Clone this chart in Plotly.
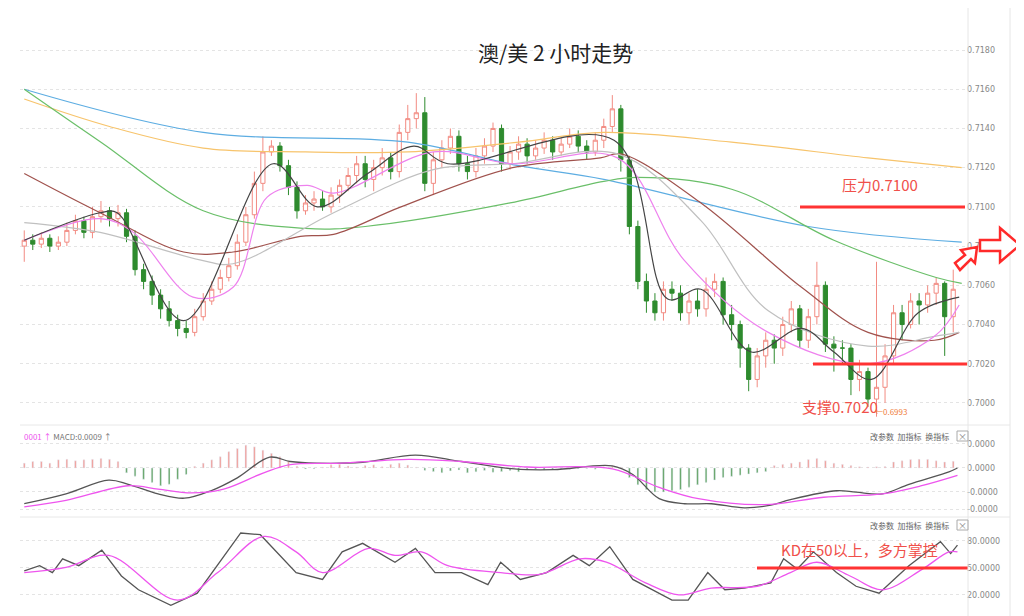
import plotly.graph_objects as go

close = [.7083,.7081,.7084,.7080,.7082, .7088,.7093,.7087,.7095,.7098,
         .7094,.7097,.7085,.7068,.7062, .7055,.7048,.7042,.7038,.7036,
         .7044,.7052,.7058,.7064,.7070, .7082,.7096,.7112,.7128,.7131,
         .7121,.7110,.7098,.7102,.7104, .7100,.7106,.7111,.7116,.7122,
         .7114,.7120,.7125,.7118,.7138, .7145,.7148,.7112,.7124,.7130,
         .7136,.7122,.7118,.7126,.7131, .7140,.7122,.7128,.7132,.7126,
         .7130,.7134,.7128,.7132,.7136, .7131,.7128,.7134,.7141,.7150,
         .7124,.7090,.7062,.7052,.7046, .7058,.7056,.7046,.7052,.7048,
         .7058,.7062,.7045,.7040,.7028, .7012,.7024,.7032,.7028,.7040,
         .7048,.7032,.7044,.7060,.7030, .7028,.7028,.7012,.7016,.7002,
         .7008,.7024,.7046,.7040,.7052, .7050,.7056,.7061,.7044,.7058]
high = [.7088,.7086,.7087,.7086,.7085, .7092,.7096,.7095,.7100,.7103,
        .7100,.7101,.7099,.7088,.7071, .7065,.7058,.7052,.7045,.7042,
        .7048,.7056,.7062,.7068,.7074, .7086,.7100,.7118,.7136,.7134,
        .7133,.7124,.7113,.7106,.7108, .7108,.7110,.7114,.7120,.7126,
        .7126,.7124,.7130,.7128,.7142, .7152,.7158,.7156,.7128,.7134,
        .7140,.7139,.7126,.7130,.7135, .7143,.7142,.7131,.7136,.7135,
        .7134,.7138,.7136,.7135,.7140, .7139,.7134,.7138,.7145,.7157,
        .7152,.7126,.7093,.7066,.7056, .7062,.7062,.7060,.7056,.7058,
        .7064,.7066,.7064,.7050,.7042, .7030,.7028,.7036,.7035,.7044,
        .7052,.7050,.7048,.7072,.7062, .7034,.7032,.7030,.7022,.7018,
        .7072,.7030,.7050,.7050,.7056, .7056,.7060,.7064,.7062,.7068]
low = [.7072,.7078,.7079,.7077,.7078, .7080,.7086,.7084,.7084,.7092,
       .7090,.7090,.7082,.7065,.7058, .7050,.7043,.7039,.7034,.7033,
       .7034,.7042,.7050,.7056,.7062, .7068,.7080,.7094,.7108,.7126,
       .7118,.7106,.7094,.7096,.7098, .7098,.7097,.7102,.7108,.7112,
       .7110,.7108,.7116,.7114,.7115, .7134,.7140,.7108,.7106,.7120,
       .7127,.7118,.7114,.7115,.7122, .7128,.7118,.7119,.7124,.7122,
       .7124,.7127,.7124,.7126,.7130, .7128,.7124,.7126,.7130,.7138,
       .7118,.7086,.7058,.7046,.7042, .7042,.7052,.7042,.7040,.7044,
       .7044,.7054,.7040,.7032,.7018, .7006,.7008,.7018,.7020,.7024,
       .7036,.7028,.7028,.7040,.7026, .7016,.7020,.7004,.7006,.6998,
       .6993,.7000,.7020,.7032,.7038, .7040,.7046,.7050,.7024,.7036]
first_open = .7080
opn = [first_open] + close[:-1]
idx = list(range(len(close)))

# moving averages (sampled)
ma_blue_x = [0,21,45,58,68,92,110]
ma_blue_y = [.7160,.7138,.7133,.7121,.7114,.7090,.7082]
ma_orange_x = [0,10,21,33,45,58,68,83,99,110]
ma_orange_y = [.7155,.7141,.7130,.7128,.7128,.7133,.7138,.7133,.7125,.7120]
ma_green_x = [0,9,21,33,40,57,68,72,83,95,107,110]
ma_green_y = [.7160,.7133,.7098,.7089,.7090,.7102,.7113,.7115,.7109,.7083,.7064,.7061]
ma_brown_x = [0,8.9,18.7,24.5,32.4,36.3,44.2,57.3,67.6,70,79.4,91.2,99,106.8,109.7]
ma_brown_y = [.7117,.7097,.7077,.7077,.7085,.7086,.7100,.7120,.7125,.7127,.7102,.7059,.7036,.7032,.7036]
ma_gray_x = [0,8.9,20.6,24.5,36.3,48.0,57.3,69.6,79.4,87.3,99,106.8,109.7]
ma_gray_y = [.7092,.7087,.7073,.7071,.7097,.7119,.7122,.7127,.7093,.7047,.7029,.7034,.7036]
ma_mag_x = [0,8.9,12.8,19.8,24.5,28.5,33.2,36.3,48.0,57.3,69.6,77.4,87.3,99,106.8,109.7]
ma_mag_y = [.7083,.7094,.7087,.7054,.7059,.7105,.7111,.7107,.7128,.7122,.7125,.7073,.7036,.7020,.7034,.7050]
ma_blk_x = [0,8.9,10.9,18.7,29.2,34.4,40.3,45.7,49.7,69.2,75.5,79.4,85.3,91.2,95.0,99.4,104.9,109.7]
ma_blk_y = [.7083,.7097,.7097,.7042,.7122,.7100,.7117,.7131,.7122,.7134,.7053,.7058,.7026,.7038,.7026,.7012,.7046,.7054]

# MACD (units of 1e-4)
macd_hist = [2,2.7,2.7,2,3.4,3.6,3.0,3.4,3.6,4.0,3.6,2.7,
             -2,-3.4,-4.7,-6,-7.4,-6.8,-4.7,-2.7,
             .7,2,3.4,4.7,6.8,8.1,9.5,8.8,7.4,6.1,4.7,2.7,.7,-.4,
             -.3,.3,1.3,1.5,.8,.3,1.0,1.3,.5,1.5,2.0,1.2,.3,
             -1.0,-1.5,-2,-1.2,-0.8,-2.0,-1.6,-1.0,-1.8,-1.5,-1.0,-1.6,-0.8,-0.5,-0.8,-0.5,-0.3,-0.5,-0.3,-0.2,-0.5,0.5,
             .8,.3,
             -4,-7,-9,-10,-10,-9.5,-9,-8,-7,-6,-5,-4,-3.5,-3,-2.5,-2,-1.5,
             1,1.5,2,2.5,3.5,4,3,2,1.5,1,
             .5,.4,.5,.6,
             2.5,3,3.5,3.6,3.6,3.0,2.5,2.8]
dif_x = [0,4.9,9.9,12.2,15.7,18.8,21.9,25,28.8,31.2,34.3,39.7,45.9,51.3,57.5,62.1,69,71.4,74.5,77.5,80.6,84.5,87.6,89.9,95.3,97.6,100.7,103.8,108.5,109.5]
dif_y = [-14.9,-10.8,-5.1,-6.8,-10.8,-12.6,-9.5,-4.1,4.5,2.7,2.0,2.4,5.4,2.7,-0.4,-0.7,0.9,-2.7,-12.8,-14.9,-14.9,-16.6,-15.5,-13.2,-9.5,-10.1,-10.8,-6.8,-1.6,0]
dea_x = [0,4.9,12.2,15.7,19.6,23.4,28.1,31.2,37.3,45.1,51.3,59,69,74.5,79.1,86.8,93.8,100.7,105.3,109.5]
dea_y = [-16.2,-13.5,-7.4,-8.8,-10.4,-8.8,-2.0,1.4,2.0,3.6,2.7,0.4,-0.4,-8.1,-12.8,-15.3,-12.2,-10.8,-7.4,-3.1]
macd_tickvals = [10, 0, -10, -17.2]
macd_ticktext = ["0.0000", "0.0000", "-0.0000", "-0.0000"]

# KD
k_x = [0,1.8,3.3,4.5,6.4,9.1,11.4,13.4,17.2,20.3,25.4,27.7,31.9,35,37.3,39.7,43.5,45.9,48.2,51.3,54.4,55.9,58.2,61.3,64.4,66.3,68.7,71.4,76,77.9,80.2,82.2,84.5,87.6,89.1,90.7,92.6,95.3,97.6,100.3,103.8,107.5,108.7,109.5]
k_y = [46.8,52.5,44.8,60.1,52.5,69.7,41.0,25.7,8.5,21.9,88.8,86.9,44.8,37.2,67.8,77.3,56.3,71.6,44.8,44.8,31.5,56.3,37.2,44.8,63.9,52.5,73.5,37.2,14.3,14.3,44.8,25.7,27.6,33.4,60.1,48.7,67.8,44.8,29.6,21.9,52.5,79.2,65.9,75.4]
d_x = [0,4.9,9.9,18,22.7,28.1,31.9,35,40.4,43.5,46.6,49.7,55.9,60.5,65.2,68.3,72.9,76.8,80.6,86,89.9,93,96.9,100.7,105.4,108.5,109.5]
d_y = [44.8,50.6,63.9,14.3,44.8,85,67.8,44.8,71.6,63.9,67.8,52.5,44.8,42.9,60.1,56.3,33.4,20,27.6,29.6,44.8,56.3,41,25.7,48.7,67.8,67.8]

price_ticks = [0.7000,0.7020,0.7040,0.7060,0.7080,0.7100,0.7120,0.7140,0.7160,0.7180]

FONT = "Noto Sans CJK SC"
OFF = 8  # page offset of the figure in the screenshot

def PX(px):
    return (px - OFF) / 1024
def PY(py):
    return 1 - (py - OFF) / 616
def P(px, py):
    return PX(px), PY(py)

fig = go.Figure()
fig.add_trace(go.Candlestick(x=idx, open=opn, high=high, low=low, close=close,
    increasing=dict(line=dict(color="#f28b82", width=1), fillcolor="white"),
    decreasing=dict(line=dict(color="#2e8b2e", width=1), fillcolor="#2e8b2e"),
    whiskerwidth=0, xaxis="x", yaxis="y", showlegend=False))
for xs, ys, col in [(ma_blue_x, ma_blue_y, "#5dade2"), (ma_orange_x, ma_orange_y, "#f7c46c"),
                    (ma_green_x, ma_green_y, "#6abf69"), (ma_brown_x, ma_brown_y, "#a0524d"),
                    (ma_gray_x, ma_gray_y, "#c0c0c0"), (ma_mag_x, ma_mag_y, "#ee82ee"),
                    (ma_blk_x, ma_blk_y, "#444444")]:
    fig.add_trace(go.Scatter(x=xs, y=ys, mode="lines", line=dict(color=col, width=1.2, shape="spline"),
                             xaxis="x", yaxis="y", showlegend=False, hoverinfo="skip"))

fig.add_trace(go.Bar(x=idx, y=macd_hist, marker_color=["#f29a94" if v >= 0 else "#5a9e5a" for v in macd_hist],
                     width=0.2, xaxis="x2", yaxis="y2", showlegend=False))
fig.add_trace(go.Scatter(x=dif_x, y=dif_y, mode="lines", line=dict(color="#555", width=1.3, shape="spline"),
                         xaxis="x2", yaxis="y2", showlegend=False))
fig.add_trace(go.Scatter(x=dea_x, y=dea_y, mode="lines", line=dict(color="#ee55ee", width=1.3, shape="spline"),
                         xaxis="x2", yaxis="y2", showlegend=False))
fig.add_trace(go.Scatter(x=k_x, y=k_y, mode="lines", line=dict(color="#555", width=1.3),
                         xaxis="x3", yaxis="y3", showlegend=False))
fig.add_trace(go.Scatter(x=d_x, y=d_y, mode="lines", line=dict(color="#ee55ee", width=1.3, shape="spline"),
                         xaxis="x3", yaxis="y3", showlegend=False))

xd = [PX(20), PX(966)]
xax = dict(domain=xd, range=[-0.5, 110.5], showticklabels=False, showgrid=False, zeroline=False, fixedrange=True)
yax_common = dict(side="right", showgrid=True, gridcolor="#e4e4e4", griddash="dot", zeroline=False,
                  tickfont=dict(size=8, color="#888", family="DejaVu Sans"), ticks="", showline=False)
fig.update_layout(
    width=1024, height=616, margin=dict(l=0, r=0, t=0, b=0),
    paper_bgcolor="white", plot_bgcolor="white", font=dict(family=FONT),
    xaxis=dict(xax, rangeslider=dict(visible=False)),
    xaxis2=dict(xax, anchor="y2"), xaxis3=dict(xax, anchor="y3"),
    yaxis=dict(yax_common, domain=[PY(422), PY(30)], range=[0.69903, 0.71902],
               tickvals=price_ticks, ticktext=[f"{v:.4f}" for v in price_ticks]),
    yaxis2=dict(yax_common, domain=[PY(515), PY(432)], range=[-19.6, 15], anchor="x2",
                tickvals=macd_tickvals, ticktext=macd_ticktext),
    yaxis3=dict(yax_common, domain=[max(0, PY(612)), PY(522)], range=[1, 101], anchor="x3",
                tickvals=[20, 50, 80], ticktext=["20.0000", "50.0000", "80.0000"]),
)

shapes = []
def seg(x0, y0, x1, y1, color, w):
    a = P(x0, y0); b = P(x1, y1)
    shapes.append(dict(type="line", xref="paper", yref="paper", x0=a[0], x1=b[0], y0=a[1], y1=b[1],
                       line=dict(color=color, width=w)))
seg(800, 207, 965, 207, "#ff3333", 3)
seg(813, 364, 967, 364, "#ff3333", 3)
seg(757, 568, 968, 568, "#ff3333", 3)
seg(20, 425, 1010, 425, "#e8e8e8", 1)
seg(20, 517, 1010, 517, "#e8e8e8", 1)
seg(968, 8, 968, 624, "#e6e6e6", 1)
seg(1010, 8, 1010, 624, "#e6e6e6", 1)

def poly(pts):
    s = ""
    for i, (x, y) in enumerate(pts):
        px, py = P(x, y)
        s += ("M" if i == 0 else "L") + f"{px:.4f},{py:.4f} "
    return s + "Z"
shapes.append(dict(type="path", xref="paper", yref="paper",
                   path=poly([(980, 240), (1000, 240), (1000, 228), (1020, 245), (1000, 262), (1000, 251), (980, 251)]),
                   line=dict(color="#ff2a2a", width=2.5), fillcolor="white"))
shapes.append(dict(type="path", xref="paper", yref="paper",
                   path=poly([(955, 263), (965, 255), (961, 250), (977, 247), (975, 263), (971, 259), (960, 270)]),
                   line=dict(color="#ff2a2a", width=2.5), fillcolor="white"))
fig.update_layout(shapes=shapes)

def ann(px, py, text, size, color, anchor="left", family=FONT):
    x, y = P(px, py)
    fig.add_annotation(x=x, y=y, xref="paper", yref="paper", text=text, showarrow=False,
                       font=dict(size=size, color=color, family=family), xanchor=anchor, yanchor="middle")
ann(555, 52, "澳/美 2 小时走势", 21, "#222", "center")
ann(840, 184, "压力0.7100", 15, "#f0504a")
ann(800, 406, "支撑0.7020", 15, "#f0504a")
ann(873, 411, "←0.6993", 8, "#f08040")
ann(779, 549, "KD在50以上，多方掌控", 15, "#f0504a")
ann(22, 436, "<span style='color:#ee55ee'>0001 ↑</span> MACD:0.0009 ↑", 8, "#777")
for py in (436, 525):
    ann(868, py, "改参数  加指标  换指标", 8, "#666")
    ann(962, py, "×", 9, "#888", "center")
    a, b = P(957, py-5), P(968, py+5)
    fig.add_shape(type="rect", xref="paper", yref="paper", x0=a[0], x1=b[0], y0=a[1], y1=b[1],
                  line=dict(color="#aaa", width=1))

fig.write_html("out.html")
